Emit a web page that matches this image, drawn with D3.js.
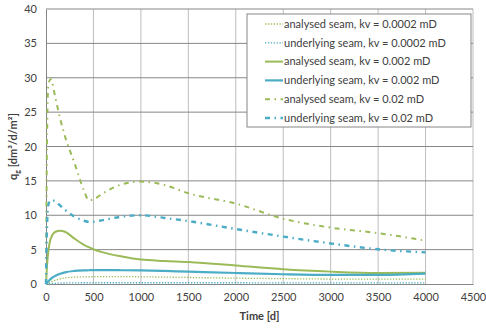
<!DOCTYPE html>
<html>
<head>
<meta charset="utf-8">
<script src="https://cdn.jsdelivr.net/npm/d3@7"></script>
<style>
body { margin: 0; background: #fff; }
svg text { font-family: Lato, "Open Sans", sans-serif; fill: #404040; }
</style>
</head>
<body>
<div class="chart"></div>
<script>
var width = 486, height = 328;
var margin = { top: 9, right: 13, bottom: 44, left: 46 };

// data
var time_days = [0, 10, 25, 50, 100, 150, 200, 300, 400, 450, 500, 600, 800, 1000, 1250, 1500, 2000, 2500, 3000, 3500, 4000];
var analysed_00002 = [0, 0.05, 0.15, 0.3, 0.55, 0.75, 0.88, 1.0, 1.04, 1.05, 1.06, 1.07, 1.07, 1.05, 1.0, 0.95, 0.85, 0.78, 0.72, 0.7, 0.7];
var underlying_00002 = [0, 0.01, 0.03, 0.06, 0.1, 0.13, 0.15, 0.17, 0.18, 0.18, 0.18, 0.18, 0.18, 0.18, 0.18, 0.18, 0.18, 0.17, 0.17, 0.17, 0.17];
var analysed_0002 = [0, 2.5, 4.8, 6.6, 7.6, 7.75, 7.6, 6.6, 5.7, 5.35, 5.05, 4.6, 4.0, 3.55, 3.35, 3.2, 2.7, 2.15, 1.8, 1.6, 1.65];
var underlying_0002 = [0, 0.15, 0.4, 0.75, 1.2, 1.5, 1.7, 1.9, 1.98, 2.0, 2.02, 2.02, 2.0, 1.97, 1.9, 1.8, 1.6, 1.42, 1.32, 1.32, 1.5];
var analysed_002 = [0, 20, 29, 29.8, 27, 24, 21.5, 17.6, 13.6, 12.2, 12.3, 13.2, 14.5, 14.9, 14.4, 13.2, 11.7, 9.5, 8.2, 7.4, 6.3];
var underlying_002 = [0, 8, 11.5, 12.2, 12.0, 11.4, 10.8, 9.8, 9.2, 9.05, 9.05, 9.3, 9.8, 10.0, 9.6, 9.15, 8.0, 6.9, 5.9, 5.05, 4.6];

var series_labels = [
    "analysed seam, kv = 0.0002 mD",
    "underlying seam, kv = 0.0002 mD",
    "analysed seam, kv = 0.002 mD",
    "underlying seam, kv = 0.002 mD",
    "analysed seam, kv = 0.02 mD",
    "underlying seam, kv = 0.02 mD"
];
var series_values = [analysed_00002, underlying_00002, analysed_0002, underlying_0002, analysed_002, underlying_002];
var x_ticks = [0, 500, 1000, 1500, 2000, 2500, 3000, 3500, 4000, 4500];
var y_ticks = [0, 5, 10, 15, 20, 25, 30, 35, 40];

var green = "#9bbb59", blue = "#4bacc6";
var styles = [
    { color: green, width: 1.3, dash: "1.3,1.6" },
    { color: blue, width: 1.3, dash: "1.3,1.6" },
    { color: green, width: 2, dash: null },
    { color: blue, width: 2.2, dash: null },
    { color: green, width: 2, dash: "5,4.5,1.5,4.5" },
    { color: blue, width: 2.4, dash: "5,4.5,1.5,4.5" }
];

var svg = d3.select(".chart").append("svg")
    .attr("width", width)
    .attr("height", height);

var x = d3.scaleLinear().domain([0, 4500]).range([margin.left, width - margin.right]);
var y = d3.scaleLinear().domain([0, 40]).range([height - margin.bottom, margin.top]);

// grid
svg.append("g").selectAll("line").data(x_ticks.slice(1))
    .join("line")
    .attr("x1", d => x(d)).attr("x2", d => x(d))
    .attr("y1", y(0)).attr("y2", y(40))
    .attr("stroke", "#bdbdbd").attr("stroke-width", 1);
svg.append("g").selectAll("line").data(y_ticks.slice(1))
    .join("line")
    .attr("x1", x(0)).attr("x2", x(4500))
    .attr("y1", d => y(d)).attr("y2", d => y(d))
    .attr("stroke", "#878787").attr("stroke-width", 1);

// axes
var x_axis = svg.append("g")
    .attr("transform", "translate(0," + y(0) + ")")
    .call(d3.axisBottom(x).tickValues(x_ticks).tickFormat(d3.format("d")).tickSize(0).tickPadding(9));
var y_axis = svg.append("g")
    .attr("transform", "translate(" + x(0) + ",0)")
    .call(d3.axisLeft(y).tickValues(y_ticks).tickFormat(d3.format("d")).tickSize(0).tickPadding(9));
[x_axis, y_axis].forEach(function(a) {
    a.select(".domain").attr("stroke", "#868686");
    a.selectAll("text").attr("font-size", "11px").attr("fill", "#404040")
        .attr("font-family", "Lato, 'Open Sans', sans-serif");
});

// lines
var line = d3.line()
    .x((d, i) => x(time_days[i]))
    .y(d => y(d))
    .curve(d3.curveMonotoneX);

svg.append("g").selectAll("path").data(series_values)
    .join("path")
    .attr("d", d => line(d))
    .attr("fill", "none")
    .attr("stroke", (d, i) => styles[i].color)
    .attr("stroke-width", (d, i) => styles[i].width)
    .attr("stroke-dasharray", (d, i) => styles[i].dash);

// axis titles
svg.append("text")
    .attr("x", (x(0) + x(4500)) / 2)
    .attr("y", 320)
    .attr("text-anchor", "middle")
    .attr("font-size", "11px")
    .attr("font-weight", "bold")
    .text("Time [d]");

var y_title = svg.append("text")
    .attr("transform", "translate(17," + ((y(0) + y(40)) / 2) + ") rotate(-90)")
    .attr("text-anchor", "middle")
    .attr("font-size", "11px")
    .attr("font-weight", "bold");
y_title.append("tspan").text("q");
y_title.append("tspan").attr("font-size", "7px").attr("dy", 3).text("g");
y_title.append("tspan").attr("dy", -3).text(" [dm³/d/m²]");

// legend
var legend = svg.append("g").attr("transform", "translate(247,14)");
legend.append("rect")
    .attr("width", 224).attr("height", 113)
    .attr("fill", "#fff").attr("stroke", "#868686").attr("stroke-width", 1);
var rows = legend.selectAll("g.row").data(series_labels)
    .join("g")
    .attr("class", "row")
    .attr("transform", (d, i) => "translate(0," + (10 + i * 18.8) + ")");
rows.append("line")
    .attr("x1", 18).attr("x2", 36)
    .attr("stroke", (d, i) => styles[i].color)
    .attr("stroke-width", (d, i) => styles[i].width)
    .attr("stroke-dasharray", (d, i) => styles[i].dash);
rows.append("text")
    .attr("x", 37).attr("dy", "0.35em")
    .attr("font-size", "11px")
    .text(d => d);
</script>
</body>
</html>
